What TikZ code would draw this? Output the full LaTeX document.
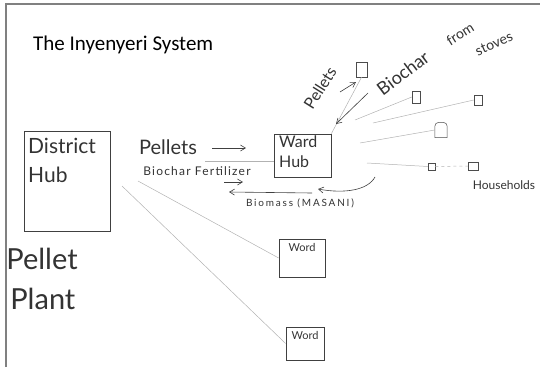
\documentclass[tikz,border=0pt]{standalone}
\usepackage{fontspec}
\setmainfont{Carlito}
\newfontfamily\handfont{Lato}
\usetikzlibrary{arrows.meta}

\begin{document}
\begin{tikzpicture}[x=1pt,y=-1pt,
    hand/.style={font=\handfont, text=black!80, inner sep=0pt},
    box/.style={draw=black!75, line width=0.7pt, inner sep=0pt},
    link/.style={black!30, line width=0.5pt},
    house/.style={draw=black!70, line width=0.5pt, inner sep=0pt},
    flow/.style={black!75, line width=0.6pt, -{Straight Barb[length=5pt,width=6pt]}}]
    \useasboundingbox (0,0) rectangle (540,367);
    \draw[black!50, line width=1.5pt] (6,367) -- (6,4) -- (540,4);

    \node[anchor=west, inner sep=0pt, font=\fontsize{21}{24}\selectfont] (title) at (33,45) {The Inyenyeri System};

    % district hub and plant
    \node[box, minimum width=86pt, minimum height=100pt] (district) at (67,181) {};
    \node[hand, anchor=north west, align=left, font=\handfont\fontsize{21}{29}\selectfont] (districtlbl) at (28,138) {District\\Hub};
    \node[hand, align=left, font=\handfont\fontsize{29}{40}\selectfont] (plant) at (42,279) {Pellet\\\hspace{4pt}Plant};

    % ward hubs
    \node[box, minimum width=57pt, minimum height=43pt] (wardhub) at (302.5,155.5) {};
    \node[hand, anchor=north west, align=left, font=\handfont\fontsize{16}{20}\selectfont] (wardhublbl) at (279,136) {Ward\\Hub};
    \node[box, minimum width=46pt, minimum height=38pt] (ward2) at (302,258) {};
    \node[hand, anchor=north, font=\handfont\fontsize{11}{13}\selectfont] (ward2lbl) at (302,243) {Word};
    \node[box, minimum width=38pt, minimum height=33pt] (ward3) at (305,343.5) {};
    \node[hand, anchor=north, font=\handfont\fontsize{11}{13}\selectfont] (ward3lbl) at (305,331) {Word};

    % district -> wards
    \coordinate (pstart) at (205,161);
    \coordinate (d1) at (138,181);
    \coordinate (d2) at (122,186);
    \draw[link] (pstart) -- (wardhub.west |- pstart);
    \draw[link] (d1) -- (ward2.west);
    \draw[link] (d2) -- (ward3.west);

    \node[hand, font=\handfont\fontsize{20}{24}\selectfont] (pellets) at (168,147) {Pellets};
    \coordinate (pa) at (212,148);
    \coordinate (pb) at (246,148);
    \draw[flow] (pa) -- (pb);
    \node[hand, font=\handfont\fontsize{12}{15}\selectfont\addfontfeature{LetterSpace=10}] (fert) at (197,171) {Biochar Fertilizer};
    \coordinate (fa) at (224,182);
    \coordinate (fb) at (243,182);
    \draw[flow] (fa) -- (fb);

    % biomass back to district
    \coordinate (ba) at (375,177);
    \coordinate (bb) at (318,189);
    \coordinate (bc) at (312,193);
    \coordinate (bd) at (229,192);
    \draw[flow] (ba) .. controls (368,190) and (345,194) .. (bb);
    \draw[flow] (bc) -- (bd);
    \node[hand, font=\handfont\fontsize{10}{12}\selectfont\addfontfeature{LetterSpace=18}] (biomass) at (300,203) {Biomass (MASANI)};

    % households
    \node[house, minimum width=11pt, minimum height=15pt] (h1) at (361.5,69.5) {};
    \node[house, minimum width=8pt, minimum height=12pt] (h2) at (416,97) {};
    \node[house, minimum width=8pt, minimum height=10pt] (h3) at (478,100) {};
    \node[minimum width=12pt, minimum height=15pt, inner sep=0pt] (h4) at (441,130) {};
    \draw[black!70, line width=0.5pt] (h4.south west) [rounded corners=4pt] -- (h4.north west) -- (h4.north east) [sharp corners] -- (h4.south east) -- cycle;
    \node[house, minimum width=7pt, minimum height=7pt] (h5) at (431.5,166.5) {};
    \node[house, minimum width=10pt, minimum height=8pt] (h6) at (473,166) {};
    \node[hand, font=\handfont\fontsize{12}{14}\selectfont] (houselbl) at (504,185) {Households};

    \coordinate (w1) at (355,120);
    \coordinate (w2) at (373,123);
    \coordinate (w3) at (360,143);
    \coordinate (w4) at (367,163);
    \draw[link] (wardhub.north east) -- (h1.south);
    \draw[link] (w1) -- (h2.west);
    \draw[link] (w2) -- (h3.west);
    \draw[link] (w3) -- (h4.west);
    \draw[link] (w4) -- (h5.west);
    \draw[link, dashed] (h5.east) -- (h6.west);

    % pellets out, biochar in
    \node[hand, rotate=58, font=\handfont\fontsize{16}{18}\selectfont] (pellets2) at (320,88) {Pellets};
    \coordinate (pc) at (340,92);
    \coordinate (pd) at (356,82);
    \draw[flow] (pc) -- (pd);
    \node[hand, rotate=37, font=\handfont\fontsize{18}{20}\selectfont] (biochar) at (403,73) {Biochar};
    \node[hand, rotate=32, font=\handfont\fontsize{14}{16}\selectfont] (from) at (460,34) {from};
    \node[hand, rotate=24, font=\handfont\fontsize{14}{16}\selectfont] (stoves) at (494,44) {stoves};
    \coordinate (ca) at (368,93);
    \coordinate (cb) at (336,124);
    \draw[flow] (ca) -- (cb);
\end{tikzpicture}
\end{document}
